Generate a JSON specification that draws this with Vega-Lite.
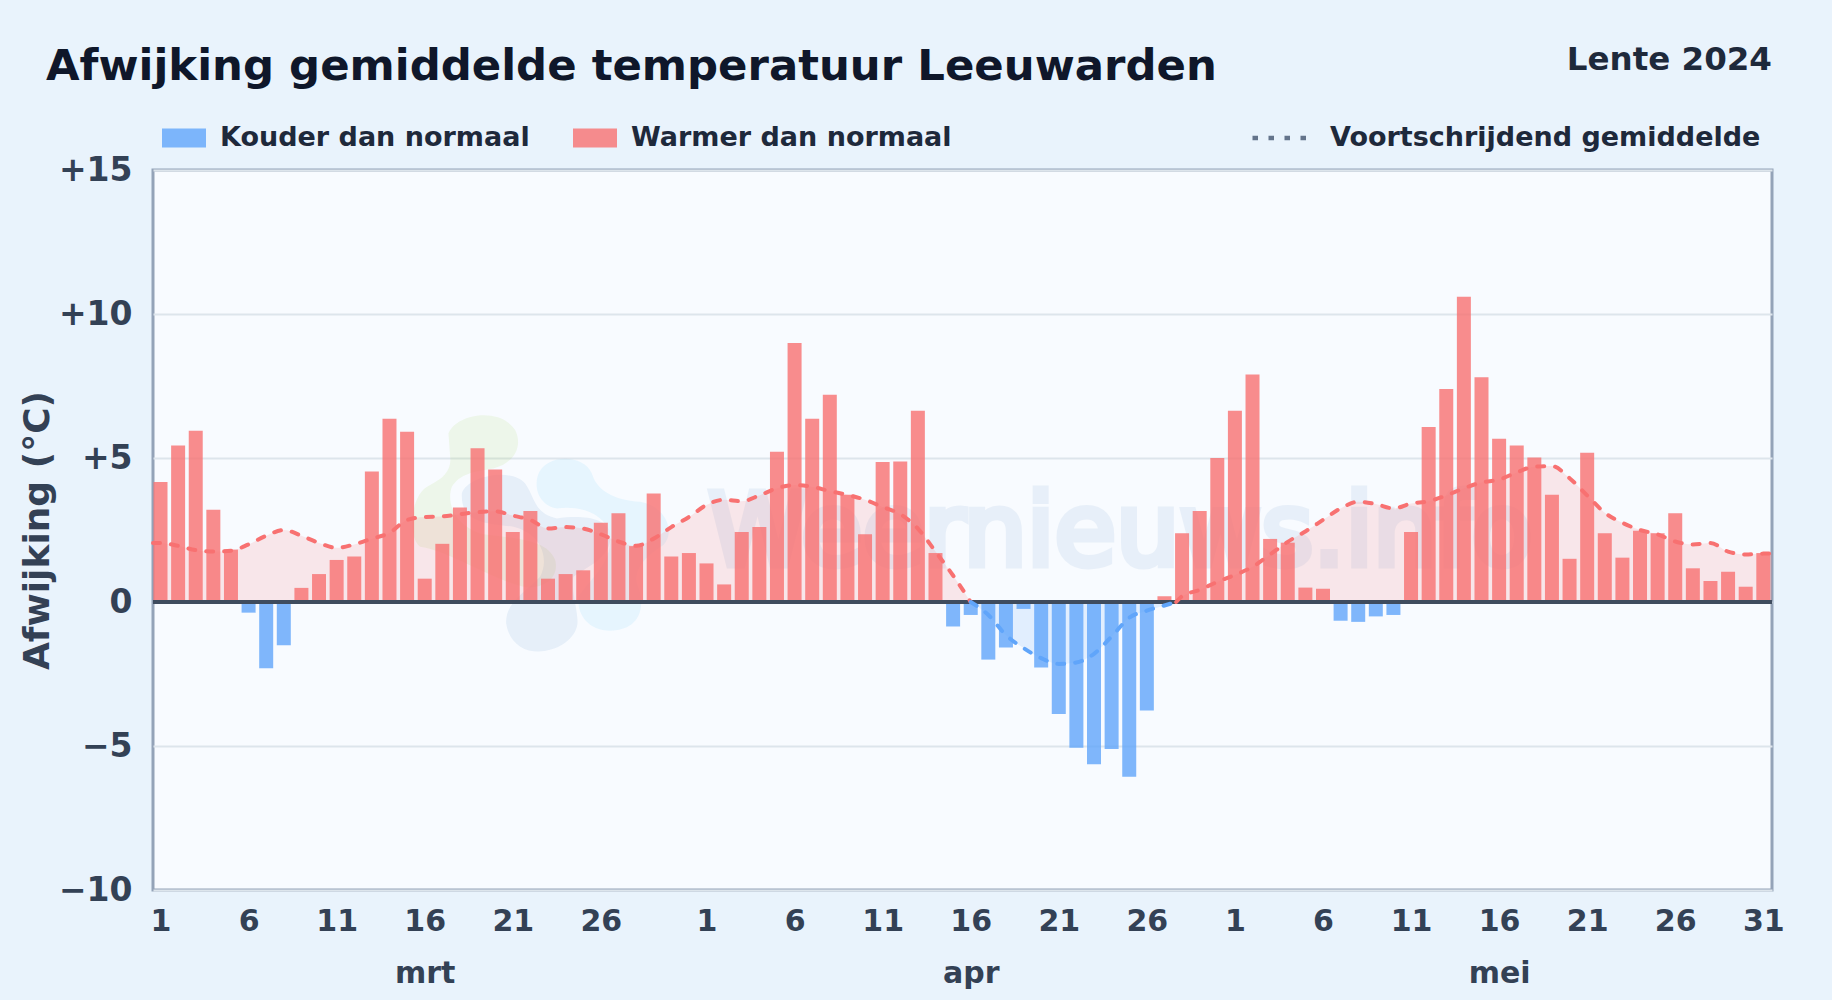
{
"$schema":"https://vega.github.io/schema/vega-lite/v6.json",
"width":1619,"height":720,
"autosize":{"type":"none"},
"padding":{"left":153,"top":170,"right":60,"bottom":110},
"background":"#e9f3fc",
"view":{"fill":"#f8fbff","stroke":"#94a3b8","strokeWidth":3},
"title":{"text":"Afwijking gemiddelde temperatuur Leeuwarden","anchor":"start","frame":"group","dx":-107,"offset":0,"dy":45,"font":"DejaVu Sans","fontSize":43.4,"fontWeight":"bold","color":"#0f172a"},
"config":{"font":"DejaVu Sans"},
"datasets":{
"dagen":[
{"datum":"2024-03-01","waarde":4.17,"soort":"Warmer dan normaal"},{"datum":"2024-03-02","waarde":5.43,"soort":"Warmer dan normaal"},{"datum":"2024-03-03","waarde":5.95,"soort":"Warmer dan normaal"},{"datum":"2024-03-04","waarde":3.2,"soort":"Warmer dan normaal"},{"datum":"2024-03-05","waarde":1.82,"soort":"Warmer dan normaal"},{"datum":"2024-03-06","waarde":-0.37,"soort":"Kouder dan normaal"},{"datum":"2024-03-07","waarde":-2.3,"soort":"Kouder dan normaal"},{"datum":"2024-03-08","waarde":-1.5,"soort":"Kouder dan normaal"},{"datum":"2024-03-09","waarde":0.49,"soort":"Warmer dan normaal"},{"datum":"2024-03-10","waarde":0.97,"soort":"Warmer dan normaal"},
{"datum":"2024-03-11","waarde":1.46,"soort":"Warmer dan normaal"},{"datum":"2024-03-12","waarde":1.58,"soort":"Warmer dan normaal"},{"datum":"2024-03-13","waarde":4.53,"soort":"Warmer dan normaal"},{"datum":"2024-03-14","waarde":6.36,"soort":"Warmer dan normaal"},{"datum":"2024-03-15","waarde":5.91,"soort":"Warmer dan normaal"},{"datum":"2024-03-16","waarde":0.81,"soort":"Warmer dan normaal"},{"datum":"2024-03-17","waarde":2.02,"soort":"Warmer dan normaal"},{"datum":"2024-03-18","waarde":3.28,"soort":"Warmer dan normaal"},{"datum":"2024-03-19","waarde":5.34,"soort":"Warmer dan normaal"},{"datum":"2024-03-20","waarde":4.6,"soort":"Warmer dan normaal"},
{"datum":"2024-03-21","waarde":2.43,"soort":"Warmer dan normaal"},{"datum":"2024-03-22","waarde":3.16,"soort":"Warmer dan normaal"},{"datum":"2024-03-23","waarde":0.81,"soort":"Warmer dan normaal"},{"datum":"2024-03-24","waarde":0.97,"soort":"Warmer dan normaal"},{"datum":"2024-03-25","waarde":1.1,"soort":"Warmer dan normaal"},{"datum":"2024-03-26","waarde":2.75,"soort":"Warmer dan normaal"},{"datum":"2024-03-27","waarde":3.08,"soort":"Warmer dan normaal"},{"datum":"2024-03-28","waarde":1.94,"soort":"Warmer dan normaal"},{"datum":"2024-03-29","waarde":3.77,"soort":"Warmer dan normaal"},{"datum":"2024-03-30","waarde":1.58,"soort":"Warmer dan normaal"},{"datum":"2024-03-31","waarde":1.7,"soort":"Warmer dan normaal"},
{"datum":"2024-04-01","waarde":1.34,"soort":"Warmer dan normaal"},{"datum":"2024-04-02","waarde":0.61,"soort":"Warmer dan normaal"},{"datum":"2024-04-03","waarde":2.43,"soort":"Warmer dan normaal"},{"datum":"2024-04-04","waarde":2.6,"soort":"Warmer dan normaal"},{"datum":"2024-04-05","waarde":5.22,"soort":"Warmer dan normaal"},{"datum":"2024-04-06","waarde":8.99,"soort":"Warmer dan normaal"},{"datum":"2024-04-07","waarde":6.36,"soort":"Warmer dan normaal"},{"datum":"2024-04-08","waarde":7.2,"soort":"Warmer dan normaal"},{"datum":"2024-04-09","waarde":3.72,"soort":"Warmer dan normaal"},{"datum":"2024-04-10","waarde":2.35,"soort":"Warmer dan normaal"},
{"datum":"2024-04-11","waarde":4.86,"soort":"Warmer dan normaal"},{"datum":"2024-04-12","waarde":4.88,"soort":"Warmer dan normaal"},{"datum":"2024-04-13","waarde":6.64,"soort":"Warmer dan normaal"},{"datum":"2024-04-14","waarde":1.7,"soort":"Warmer dan normaal"},{"datum":"2024-04-15","waarde":-0.85,"soort":"Kouder dan normaal"},{"datum":"2024-04-16","waarde":-0.45,"soort":"Kouder dan normaal"},{"datum":"2024-04-17","waarde":-2.0,"soort":"Kouder dan normaal"},{"datum":"2024-04-18","waarde":-1.58,"soort":"Kouder dan normaal"},{"datum":"2024-04-19","waarde":-0.24,"soort":"Kouder dan normaal"},{"datum":"2024-04-20","waarde":-2.27,"soort":"Kouder dan normaal"},
{"datum":"2024-04-21","waarde":-3.89,"soort":"Kouder dan normaal"},{"datum":"2024-04-22","waarde":-5.06,"soort":"Kouder dan normaal"},{"datum":"2024-04-23","waarde":-5.63,"soort":"Kouder dan normaal"},{"datum":"2024-04-24","waarde":-5.1,"soort":"Kouder dan normaal"},{"datum":"2024-04-25","waarde":-6.07,"soort":"Kouder dan normaal"},{"datum":"2024-04-26","waarde":-3.77,"soort":"Kouder dan normaal"},{"datum":"2024-04-27","waarde":0.2,"soort":"Warmer dan normaal"},{"datum":"2024-04-28","waarde":2.39,"soort":"Warmer dan normaal"},{"datum":"2024-04-29","waarde":3.16,"soort":"Warmer dan normaal"},{"datum":"2024-04-30","waarde":5.0,"soort":"Warmer dan normaal"},
{"datum":"2024-05-01","waarde":6.64,"soort":"Warmer dan normaal"},{"datum":"2024-05-02","waarde":7.9,"soort":"Warmer dan normaal"},{"datum":"2024-05-03","waarde":2.19,"soort":"Warmer dan normaal"},{"datum":"2024-05-04","waarde":2.06,"soort":"Warmer dan normaal"},{"datum":"2024-05-05","waarde":0.5,"soort":"Warmer dan normaal"},{"datum":"2024-05-06","waarde":0.46,"soort":"Warmer dan normaal"},{"datum":"2024-05-07","waarde":-0.65,"soort":"Kouder dan normaal"},{"datum":"2024-05-08","waarde":-0.69,"soort":"Kouder dan normaal"},{"datum":"2024-05-09","waarde":-0.5,"soort":"Kouder dan normaal"},{"datum":"2024-05-10","waarde":-0.45,"soort":"Kouder dan normaal"},
{"datum":"2024-05-11","waarde":2.43,"soort":"Warmer dan normaal"},{"datum":"2024-05-12","waarde":6.08,"soort":"Warmer dan normaal"},{"datum":"2024-05-13","waarde":7.4,"soort":"Warmer dan normaal"},{"datum":"2024-05-14","waarde":10.6,"soort":"Warmer dan normaal"},{"datum":"2024-05-15","waarde":7.8,"soort":"Warmer dan normaal"},{"datum":"2024-05-16","waarde":5.67,"soort":"Warmer dan normaal"},{"datum":"2024-05-17","waarde":5.43,"soort":"Warmer dan normaal"},{"datum":"2024-05-18","waarde":5.02,"soort":"Warmer dan normaal"},{"datum":"2024-05-19","waarde":3.72,"soort":"Warmer dan normaal"},{"datum":"2024-05-20","waarde":1.5,"soort":"Warmer dan normaal"},
{"datum":"2024-05-21","waarde":5.18,"soort":"Warmer dan normaal"},{"datum":"2024-05-22","waarde":2.39,"soort":"Warmer dan normaal"},{"datum":"2024-05-23","waarde":1.54,"soort":"Warmer dan normaal"},{"datum":"2024-05-24","waarde":2.47,"soort":"Warmer dan normaal"},{"datum":"2024-05-25","waarde":2.39,"soort":"Warmer dan normaal"},{"datum":"2024-05-26","waarde":3.08,"soort":"Warmer dan normaal"},{"datum":"2024-05-27","waarde":1.17,"soort":"Warmer dan normaal"},{"datum":"2024-05-28","waarde":0.73,"soort":"Warmer dan normaal"},{"datum":"2024-05-29","waarde":1.05,"soort":"Warmer dan normaal"},{"datum":"2024-05-30","waarde":0.53,"soort":"Warmer dan normaal"},{"datum":"2024-05-31","waarde":1.7,"soort":"Warmer dan normaal"}
],
"gemiddelde":[
{"datum":"2024-02-29T13:46:00Z","waarde":2.05,"deel":"a","fase":"warm"},{"datum":"2024-03-01","waarde":2.05,"deel":"a","fase":"warm"},{"datum":"2024-03-02","waarde":1.95,"deel":"a","fase":"warm"},{"datum":"2024-03-03","waarde":1.8,"deel":"a","fase":"warm"},{"datum":"2024-03-04","waarde":1.75,"deel":"a","fase":"warm"},{"datum":"2024-03-05","waarde":1.78,"deel":"a","fase":"warm"},{"datum":"2024-03-06","waarde":2.0,"deel":"a","fase":"warm"},{"datum":"2024-03-07","waarde":2.3,"deel":"a","fase":"warm"},{"datum":"2024-03-08","waarde":2.5,"deel":"a","fase":"warm"},{"datum":"2024-03-09","waarde":2.3,"deel":"a","fase":"warm"},{"datum":"2024-03-10","waarde":2.05,"deel":"a","fase":"warm"},
{"datum":"2024-03-11","waarde":1.88,"deel":"a","fase":"warm"},{"datum":"2024-03-12","waarde":2.0,"deel":"a","fase":"warm"},{"datum":"2024-03-13","waarde":2.2,"deel":"a","fase":"warm"},{"datum":"2024-03-14","waarde":2.4,"deel":"a","fase":"warm"},{"datum":"2024-03-15","waarde":2.85,"deel":"a","fase":"warm"},{"datum":"2024-03-16","waarde":2.95,"deel":"a","fase":"warm"},{"datum":"2024-03-17","waarde":2.97,"deel":"a","fase":"warm"},{"datum":"2024-03-18","waarde":3.05,"deel":"a","fase":"warm"},{"datum":"2024-03-19","waarde":3.12,"deel":"a","fase":"warm"},{"datum":"2024-03-20","waarde":3.15,"deel":"a","fase":"warm"},
{"datum":"2024-03-21","waarde":3.0,"deel":"a","fase":"warm"},{"datum":"2024-03-22","waarde":2.85,"deel":"a","fase":"warm"},{"datum":"2024-03-23","waarde":2.55,"deel":"a","fase":"warm"},{"datum":"2024-03-24","waarde":2.6,"deel":"a","fase":"warm"},{"datum":"2024-03-25","waarde":2.55,"deel":"a","fase":"warm"},{"datum":"2024-03-26","waarde":2.35,"deel":"a","fase":"warm"},{"datum":"2024-03-27","waarde":2.1,"deel":"a","fase":"warm"},{"datum":"2024-03-28","waarde":1.95,"deel":"a","fase":"warm"},{"datum":"2024-03-29","waarde":2.2,"deel":"a","fase":"warm"},{"datum":"2024-03-30","waarde":2.6,"deel":"a","fase":"warm"},{"datum":"2024-03-31","waarde":2.95,"deel":"a","fase":"warm"},
{"datum":"2024-04-01","waarde":3.37,"deel":"a","fase":"warm"},{"datum":"2024-04-02","waarde":3.55,"deel":"a","fase":"warm"},{"datum":"2024-04-03","waarde":3.5,"deel":"a","fase":"warm"},{"datum":"2024-04-04","waarde":3.7,"deel":"a","fase":"warm"},{"datum":"2024-04-05","waarde":3.95,"deel":"a","fase":"warm"},{"datum":"2024-04-06","waarde":4.06,"deel":"a","fase":"warm"},{"datum":"2024-04-07","waarde":4.0,"deel":"a","fase":"warm"},{"datum":"2024-04-08","waarde":3.85,"deel":"a","fase":"warm"},{"datum":"2024-04-09","waarde":3.72,"deel":"a","fase":"warm"},{"datum":"2024-04-10","waarde":3.55,"deel":"a","fase":"warm"},
{"datum":"2024-04-11","waarde":3.3,"deel":"a","fase":"warm"},{"datum":"2024-04-12","waarde":3.05,"deel":"a","fase":"warm"},{"datum":"2024-04-13","waarde":2.55,"deel":"a","fase":"warm"},{"datum":"2024-04-14","waarde":1.75,"deel":"a","fase":"warm"},{"datum":"2024-04-15","waarde":0.92,"deel":"a","fase":"warm"},{"datum":"2024-04-16","waarde":0,"deel":"a","fase":"warm"},
{"datum":"2024-04-16","waarde":0,"deel":"b","fase":"koud"},{"datum":"2024-04-17","waarde":-0.45,"deel":"b","fase":"koud"},{"datum":"2024-04-18","waarde":-1.15,"deel":"b","fase":"koud"},{"datum":"2024-04-19","waarde":-1.6,"deel":"b","fase":"koud"},{"datum":"2024-04-20","waarde":-1.95,"deel":"b","fase":"koud"},{"datum":"2024-04-21","waarde":-2.15,"deel":"b","fase":"koud"},{"datum":"2024-04-22","waarde":-2.1,"deel":"b","fase":"koud"},{"datum":"2024-04-23","waarde":-1.8,"deel":"b","fase":"koud"},{"datum":"2024-04-24","waarde":-1.2,"deel":"b","fase":"koud"},{"datum":"2024-04-25","waarde":-0.55,"deel":"b","fase":"koud"},{"datum":"2024-04-26","waarde":-0.3,"deel":"b","fase":"koud"},{"datum":"2024-04-27","waarde":-0.12,"deel":"b","fase":"koud"},{"datum":"2024-04-27T16:00:00Z","waarde":0,"deel":"b","fase":"koud"},
{"datum":"2024-04-27T16:00:00Z","waarde":0,"deel":"c","fase":"warm"},{"datum":"2024-04-28","waarde":0.2,"deel":"c","fase":"warm"},{"datum":"2024-04-29","waarde":0.42,"deel":"c","fase":"warm"},{"datum":"2024-04-30","waarde":0.7,"deel":"c","fase":"warm"},{"datum":"2024-05-01","waarde":0.94,"deel":"c","fase":"warm"},{"datum":"2024-05-02","waarde":1.22,"deel":"c","fase":"warm"},{"datum":"2024-05-03","waarde":1.65,"deel":"c","fase":"warm"},{"datum":"2024-05-04","waarde":2.09,"deel":"c","fase":"warm"},{"datum":"2024-05-05","waarde":2.45,"deel":"c","fase":"warm"},{"datum":"2024-05-06","waarde":2.85,"deel":"c","fase":"warm"},{"datum":"2024-05-07","waarde":3.25,"deel":"c","fase":"warm"},{"datum":"2024-05-08","waarde":3.48,"deel":"c","fase":"warm"},{"datum":"2024-05-09","waarde":3.4,"deel":"c","fase":"warm"},{"datum":"2024-05-10","waarde":3.25,"deel":"c","fase":"warm"},
{"datum":"2024-05-11","waarde":3.42,"deel":"c","fase":"warm"},{"datum":"2024-05-12","waarde":3.5,"deel":"c","fase":"warm"},{"datum":"2024-05-13","waarde":3.7,"deel":"c","fase":"warm"},{"datum":"2024-05-14","waarde":3.95,"deel":"c","fase":"warm"},{"datum":"2024-05-15","waarde":4.15,"deel":"c","fase":"warm"},{"datum":"2024-05-16","waarde":4.25,"deel":"c","fase":"warm"},{"datum":"2024-05-17","waarde":4.5,"deel":"c","fase":"warm"},{"datum":"2024-05-18","waarde":4.7,"deel":"c","fase":"warm"},{"datum":"2024-05-19","waarde":4.72,"deel":"c","fase":"warm"},{"datum":"2024-05-20","waarde":4.3,"deel":"c","fase":"warm"},
{"datum":"2024-05-21","waarde":3.7,"deel":"c","fase":"warm"},{"datum":"2024-05-22","waarde":3.1,"deel":"c","fase":"warm"},{"datum":"2024-05-23","waarde":2.75,"deel":"c","fase":"warm"},{"datum":"2024-05-24","waarde":2.5,"deel":"c","fase":"warm"},{"datum":"2024-05-25","waarde":2.35,"deel":"c","fase":"warm"},{"datum":"2024-05-26","waarde":2.1,"deel":"c","fase":"warm"},{"datum":"2024-05-27","waarde":2.0,"deel":"c","fase":"warm"},{"datum":"2024-05-28","waarde":2.05,"deel":"c","fase":"warm"},{"datum":"2024-05-29","waarde":1.75,"deel":"c","fase":"warm"},{"datum":"2024-05-30","waarde":1.65,"deel":"c","fase":"warm"},{"datum":"2024-05-31","waarde":1.68,"deel":"c","fase":"warm"},{"datum":"2024-05-31T11:51:00Z","waarde":1.68,"deel":"c","fase":"warm"}
],
"logo":[{"datum":"2024-03-22T06:30:00Z","waarde":2.15}],
"watermerk":[{"datum":"2024-04-01T02:00:00Z","waarde":1.28,"tekst":"Weernieuws.info"}],
"periode":[{"datum":"2024-05-31T11:51:00Z","waarde":15,"tekst":"Lente 2024"}],
"legendaLijn":[{"datum":"2024-03-01","waarde":20,"reeks":"Voortschrijdend gemiddelde"}]
},
"encoding":{
"x":{"field":"datum","type":"temporal","title":null,
 "scale":{"type":"utc","nice":false,"padding":0,"domain":["2024-02-29T13:46:00Z","2024-05-31T11:51:00Z"]},
 "axis":{"values":["2024-03-01","2024-03-06","2024-03-11","2024-03-16","2024-03-21","2024-03-26","2024-04-01","2024-04-06","2024-04-11","2024-04-16","2024-04-21","2024-04-26","2024-05-01","2024-05-06","2024-05-11","2024-05-16","2024-05-21","2024-05-26","2024-05-31"],
 "labelExpr":"utcdate(datum.value)==16?['16',utcmonth(datum.value)==2?'mrt':utcmonth(datum.value)==3?'apr':'mei']:''+utcdate(datum.value)",
 "labelLineHeight":52,"grid":false,"ticks":false,"domain":false,"labelPadding":16,"labelFontSize":30,"labelFontWeight":"bold","labelColor":"#334155","labelFont":"DejaVu Sans","labelOverlap":false,"labelBound":false,"labelFlush":false,"labelAngle":0}},
"y":{"field":"waarde","type":"quantitative","title":"Afwijking (°C)",
 "scale":{"domain":[-10,15],"nice":false},
 "axis":{"values":[-10,-5,0,5,10,15],"labelExpr":"datum.value>0?'+'+datum.value:datum.value<0?'−'+abs(datum.value):'0'","grid":true,"gridColor":"#dde5ec","gridWidth":2,"ticks":false,"domain":false,"labelPadding":21,"labelFontSize":33,"labelFontWeight":"bold","labelColor":"#334155","labelFont":"DejaVu Sans","titleFont":"DejaVu Sans","titleFontSize":36,"titleFontWeight":"bold","titleColor":"#334155","titleX":-96.5,"labelOverlap":false}}
},
"layer":[
{"data":{"name":"logo"},"mark":{"type":"point","filled":true,"clip":true,"fill":"#84cc16","opacity":0.09,"size":40000,"shape":"M-.867,-1.067C-.783,-1.267,-.35,-1.333,-.2,-1.1C-.117,-.933,-.217,-.767,-.417,-.717C-.617,-.683,-.75,-.667,-.833,-.533C-.883,-.4,-.833,-.167,-.55,-.067C-.283,-.017,.117,-.033,.2,.2C.25,.4,.05,.5,-.117,.467C-.417,.4,-.883,.1,-1.15,.067C-1.283,-.033,-1.25,-.467,-1.05,-.55C-.917,-.617,-.833,-.7,-.85,-.833Z"}},
{"data":{"name":"logo"},"mark":{"type":"point","filled":true,"clip":true,"fill":"#1e63b0","opacity":0.08,"size":40000,"shape":"M-.733,-.467C-.683,-.633,-.25,-.733,-.1,-.567C0,-.433,-.017,-.267,.217,-.217C.45,-.25,.717,-.233,.75,-.067C.783,.167,.517,.267,.383,.367C.35,.5,.45,.767,.417,.867C.35,1.133,-.217,1.267,-.29,.833C-.3,.633,-.117,.533,.05,.367C.15,.167,.05,-.067,-.217,-.133C-.483,-.167,-.75,-.167,-.733,-.467Z"}},
{"data":{"name":"logo"},"mark":{"type":"point","filled":true,"clip":true,"fill":"#38bdf8","opacity":0.09,"size":40000,"shape":"M.023,-.633C.083,-.867,.483,-.867,.567,-.667C.617,-.5,.783,-.4,1.05,-.383C1.283,-.35,1.417,-.1,1.283,.05C1.15,.133,.983,.267,1.017,.433C1.117,.667,1.05,.9,.75,.907C.517,.9,.417,.733,.433,.567C.533,.4,.783,.233,.75,-.067C.683,-.267,.45,-.35,.217,-.317C.083,-.333,-.017,-.467,.023,-.633Z"}},
{"data":{"name":"watermerk"},"mark":{"type":"text","align":"left","baseline":"alphabetic","fontSize":100,"font":"DejaVu Sans","color":"#1e63b0","stroke":"#1e63b0","strokeWidth":7,"opacity":0.07,"clip":true},"encoding":{"text":{"field":"tekst"}}},
{"data":{"name":"gemiddelde"},"transform":[{"filter":"datum.fase=='warm'"}],"mark":{"type":"area","interpolate":"monotone","color":"#f87171","opacity":0.15},"encoding":{"y2":{"datum":0},"detail":{"field":"deel"}}},
{"data":{"name":"gemiddelde"},"transform":[{"filter":"datum.fase=='koud'"}],"mark":{"type":"area","interpolate":"monotone","color":"#60a5fa","opacity":0.15},"encoding":{"y2":{"datum":0},"detail":{"field":"deel"}}},
{"data":{"name":"dagen"},"mark":{"type":"bar","size":14,"opacity":0.8},"encoding":{"y2":{"datum":0},"color":{"field":"soort","type":"nominal","scale":{"domain":["Kouder dan normaal","Warmer dan normaal"],"range":["#60a5fa","#f87171"]},
 "legend":{"title":null,"orient":"none","legendX":9,"legendY":-54,"direction":"horizontal","columns":2,"columnPadding":43,"symbolType":"M-1,-.43H1V.43H-1Z","symbolSize":1936,"symbolOpacity":0.8,"symbolStrokeWidth":0,"labelOffset":14,"labelFontSize":27,"labelFontWeight":"bold","labelFont":"DejaVu Sans","labelColor":"#1e293b","labelLimit":500}}}},
{"data":{"values":[{"nul":0}]},"mark":{"type":"rule","color":"#3f4c5e","strokeWidth":4},"encoding":{"x":{"value":0},"x2":{"value":1619},"y":{"field":"nul","type":"quantitative"}}},
{"data":{"name":"gemiddelde"},"transform":[{"filter":"datum.fase=='warm'"}],"mark":{"type":"line","interpolate":"monotone","color":"#f87171","strokeWidth":4,"strokeCap":"round","strokeDash":[7,11]},"encoding":{"detail":{"field":"deel"}}},
{"data":{"name":"gemiddelde"},"transform":[{"filter":"datum.fase=='koud'"}],"mark":{"type":"line","interpolate":"monotone","color":"#60a5fa","strokeWidth":4,"strokeCap":"round","strokeDash":[7,11]},"encoding":{"detail":{"field":"deel"}}},
{"data":{"name":"legendaLijn"},"mark":{"type":"line","clip":true,"strokeWidth":0},"encoding":{"strokeDash":{"field":"reeks","type":"nominal","scale":{"range":[[5.5,10.5]]},
 "legend":{"title":null,"orient":"none","legendX":1097,"legendY":-63,"symbolType":"stroke","symbolSize":3249,"symbolStrokeColor":"#64748b","symbolStrokeWidth":4.5,"labelOffset":18,"labelFontSize":27,"labelFontWeight":"bold","labelFont":"DejaVu Sans","labelColor":"#1e293b","labelLimit":500}}}},
{"data":{"name":"periode"},"mark":{"type":"text","align":"right","baseline":"alphabetic","dy":-100,"dx":0,"fontSize":32.5,"fontWeight":"bold","font":"DejaVu Sans","color":"#1e293b"},"encoding":{"text":{"field":"tekst"}}}
]
}
